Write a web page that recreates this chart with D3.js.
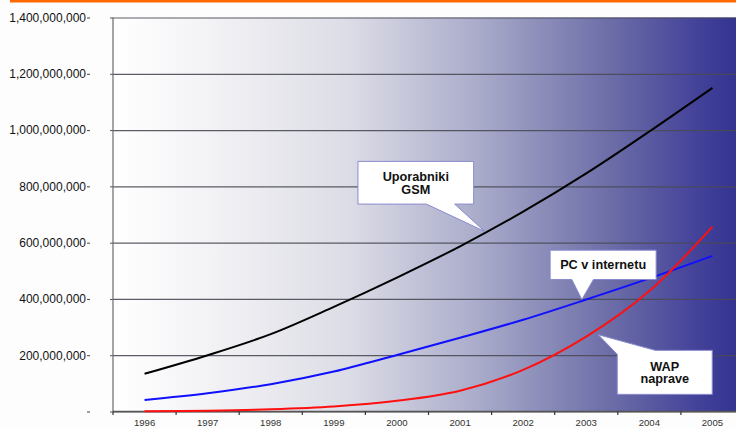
<!DOCTYPE html>
<html>
<head>
<meta charset="utf-8">
<script src="https://cdn.jsdelivr.net/npm/d3@7"></script>
<style>
  html, body { margin: 0; padding: 0; background: #fdfdfd; }
  svg { display: block; font-family: "Liberation Sans", Arial, sans-serif; }
</style>
</head>
<body>
<svg id="chart" width="736" height="429"></svg>
<script>
// Years on the category axis
const years = [1996, 1997, 1998, 1999, 2000, 2001, 2002, 2003, 2004, 2005];

// Series values (number of users / devices)
const gsmUsers   = [134e6, 200e6, 275e6, 372e6, 476e6, 587e6, 710e6, 846e6, 995e6, 1150e6];
const pcInternet = [41e6, 65e6, 97e6, 142e6, 201e6, 262e6, 326e6, 398e6, 473e6, 553e6];
const wapDevices = [0.5e6, 3e6, 8e6, 18e6, 38e6, 74e6, 148e6, 266e6, 428e6, 657e6];

// Value axis ticks
const yTicks = [0, 200e6, 400e6, 600e6, 800e6, 1000e6, 1200e6, 1400e6];

// Callout labels, tied to a point near their series
const callouts = [
  { lines: ["Uporabniki", "GSM"], at: 2001.39, value: 640e6, dx: -126.7, dy: -70, w: 115.7, h: 42.7, side: "bottom", b0: 68.4, b1: 96.7 },
  { lines: ["PC v internetu"],    at: 2002.93, value: 398e6, dx: -31.7, dy: -49.3, w: 106, h: 29.3, side: "bottom", b0: 21.7, b1: 43.3 },
  { lines: ["WAP", "naprave"],    at: 2003.19, value: 273e6, dx: 19, dy: 15.7, w: 95, h: 44, side: "topleft", b0: 4, b1: 38 }
];

const svg = d3.select("#chart");
const plot = { left: 113, right: 744, top: 17.5, bottom: 411.5 };

const x = d3.scaleBand().domain(years).range([plot.left, plot.right]);
const bw = x.bandwidth();
const xc = d => x(d) + bw / 2;
const xCont = d3.scaleLinear().domain([years[0], years[years.length - 1]])
  .range([xc(years[0]), xc(years[years.length - 1])]);
const y = d3.scaleLinear().domain([0, 1400e6]).range([plot.bottom, plot.top]);

// Orange rule along the top
svg.append("rect").attr("x", 10).attr("y", 0).attr("width", 726).attr("height", 2.5).attr("fill", "#ff6a00");

// Plot-area gradient: white on the left to deep blue on the right
const defs = svg.append("defs");
const grad = defs.append("linearGradient").attr("id", "bg")
  .attr("gradientUnits", "userSpaceOnUse")
  .attr("x1", plot.left).attr("x2", plot.right).attr("y1", 0).attr("y2", 0);
const gStops = [
  [0, "#ffffff"], [0.15, "#f3f3f6"], [0.376, "#dcdce6"], [0.58, "#a9abca"],
  [0.785, "#6d6ea8"], [0.92, "#45449a"], [1, "#303090"]
];
grad.selectAll("stop").data(gStops).join("stop")
  .attr("offset", d => d[0]).attr("stop-color", d => d[1]);

svg.append("rect")
  .attr("x", plot.left).attr("y", plot.top)
  .attr("width", plot.right - plot.left).attr("height", plot.bottom - plot.top)
  .attr("fill", "url(#bg)");

// Horizontal gridlines
const grid = svg.append("g").attr("transform", `translate(${plot.left},0)`)
  .call(d3.axisLeft(y).tickValues(yTicks).tickSize(-(plot.right - plot.left)).tickFormat(""));
grid.select(".domain").remove();
grid.selectAll(".tick line").attr("stroke", "#4a4a55").attr("stroke-width", 1.2).attr("opacity", 0.9);

// Short outward ticks on the plot's left edge
const lt = svg.append("g").attr("transform", `translate(${plot.left},0)`)
  .call(d3.axisLeft(y).tickValues(yTicks).tickSize(3).tickFormat(""));
lt.select(".domain").remove();
lt.selectAll(".tick line").attr("stroke", "#555");

// Vertical axis line
svg.append("line")
  .attr("x1", plot.left).attr("x2", plot.left)
  .attr("y1", plot.top).attr("y2", plot.bottom)
  .attr("stroke", "#6a6a6a").attr("stroke-width", 1.2);

// Value labels, set apart to the left
const fmt = d3.format(",");
const ya = svg.append("g").attr("transform", "translate(90,0)")
  .call(d3.axisLeft(y).tickValues(yTicks).tickSize(3).tickPadding(1)
    .tickFormat(d => d === 0 ? "" : fmt(d)));
ya.select(".domain").remove();
ya.selectAll(".tick line").attr("stroke", "#444");
ya.selectAll(".tick text").attr("font-size", 12).attr("fill", "#111")
  .attr("font-family", "'Liberation Sans', Arial, sans-serif");

// Category axis line and ticks at band boundaries
svg.append("line")
  .attr("x1", plot.left).attr("x2", plot.right)
  .attr("y1", plot.bottom).attr("y2", plot.bottom)
  .attr("stroke", "#555").attr("stroke-width", 1.6);
svg.append("g").selectAll("line").data(years).join("line")
  .attr("x1", d => x(d)).attr("x2", d => x(d))
  .attr("y1", plot.bottom).attr("y2", plot.bottom + 3.5)
  .attr("stroke", "#333").attr("stroke-width", 1.2);

const xa = svg.append("g").attr("transform", `translate(0,${plot.bottom})`)
  .call(d3.axisBottom(x).tickSize(0).tickPadding(7.5));
xa.select(".domain").remove();
xa.selectAll(".tick text").attr("font-size", 9.6).attr("fill", "#333")
  .attr("font-family", "'Liberation Sans', Arial, sans-serif");

// Series lines
const line = d3.line().x((d, i) => xc(years[i])).y(d => y(d)).curve(d3.curveCatmullRom);
const series = [
  { values: gsmUsers,   color: "#000000" },
  { values: pcInternet, color: "#1010ff" },
  { values: wapDevices, color: "#ff1010" }
];
svg.append("g").selectAll("path").data(series).join("path")
  .attr("d", d => line(d.values))
  .attr("fill", "none").attr("stroke", d => d.color).attr("stroke-width", 2);

// Callouts with pointers
const cg = svg.append("g");
callouts.forEach(c => {
  const tx = xCont(c.at), ty = y(c.value);
  const x0 = tx + c.dx, y0 = ty + c.dy, x1 = x0 + c.w, y1 = y0 + c.h;
  let p;
  if (c.side === "bottom") {
    p = [[x0, y0], [x1, y0], [x1, y1], [x0 + c.b1, y1], [tx, ty], [x0 + c.b0, y1], [x0, y1]];
  } else {
    p = [[x0, y0 + c.b0], [tx, ty], [x0 + c.b1, y0], [x1, y0], [x1, y1], [x0, y1]];
  }
  cg.append("path")
    .attr("d", "M" + p.map(q => q.join(",")).join("L") + "Z")
    .attr("fill", "#ffffff").attr("stroke", "#8a8ad0").attr("stroke-width", 1);
  const cx = (x0 + x1) / 2;
  const lh = 12.7;
  const firstBase = (y0 + y1) / 2 - (c.lines.length - 1) * lh / 2 + 4.5;
  c.lines.forEach((t, i) => {
    cg.append("text").attr("x", cx).attr("y", firstBase + i * lh)
      .attr("text-anchor", "middle").attr("font-size", 12.7).attr("font-weight", "bold")
      .attr("fill", "#111").text(t);
  });
});
</script>
</body>
</html>
